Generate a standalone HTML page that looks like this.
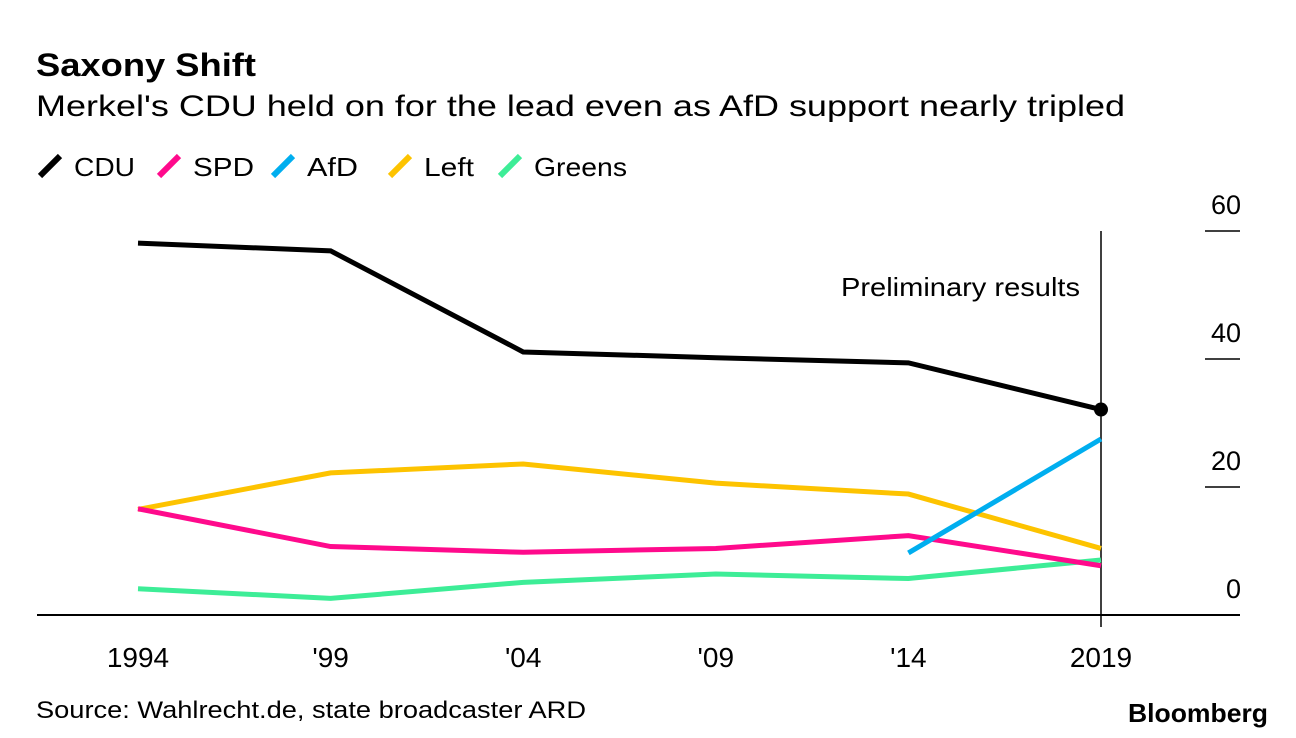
<!DOCTYPE html>
<html><head><meta charset="utf-8"><style>
body{margin:0;background:#fff;font-family:"Liberation Sans",sans-serif;}
svg{display:block}
</style></head><body>
<svg width="1296" height="738" viewBox="0 0 1296 738">
<text x="36" y="76" font-size="32" font-weight="bold" fill="#000" textLength="220" lengthAdjust="spacingAndGlyphs">Saxony Shift</text>
<text x="36" y="116" font-size="30" fill="#000" textLength="1089" lengthAdjust="spacingAndGlyphs">Merkel's CDU held on for the lead even as AfD support nearly tripled</text>
<g id="legend"></g>
<g id="grid"></g>
<g id="xaxis"></g>
<g id="series"></g>
<text x="841" y="296" font-size="26" fill="#000" textLength="239" lengthAdjust="spacingAndGlyphs">Preliminary results</text>
<text x="36" y="718" font-size="24" fill="#000" textLength="550" lengthAdjust="spacingAndGlyphs">Source: Wahlrecht.de, state broadcaster ARD</text>
<text x="1128" y="722" font-size="26" font-weight="bold" fill="#000" textLength="140" lengthAdjust="spacingAndGlyphs">Bloomberg</text>
</svg>
<script>
const years=[1994,1999,2004,2009,2014,2019];
const xLabels=['1994',"'99","'04","'09","'14",'2019'];
const yTicks=[0,20,40,60];
const cdu=[58.1,56.9,41.1,40.2,39.4,32.1];
const spd=[16.6,10.7,9.8,10.4,12.4,7.7];
const afd=[null,null,null,null,9.7,27.5];
const left=[16.5,22.2,23.6,20.6,18.9,10.4];
const greens=[4.1,2.6,5.1,6.4,5.7,8.6];
const NS='http://www.w3.org/2000/svg';
const X=y=>138+(y-1994)*(1101-138)/25;
const Y=v=>615-v*6.4;
function mk(t,a,p){const e=document.createElementNS(NS,t);for(const k in a)e.setAttribute(k,a[k]);p.appendChild(e);return e;}
const grid=document.getElementById('grid');
yTicks.forEach(t=>{
  if(t>0){const l=mk('line',{x1:1205,x2:1240,y1:Y(t),y2:Y(t),stroke:'#000','stroke-width':1.5},grid);
  
  }
  const tx=mk('text',{x:1241,y:Y(t)-17,'font-size':27,'text-anchor':'end'},grid);tx.textContent=t;
  
  
});
const xa=document.getElementById('xaxis');
const base=mk('line',{x1:37,x2:1240,y1:615,y2:615,stroke:'#000','stroke-width':2},xa);


const vl=mk('line',{x1:X(2019),x2:X(2019),y1:231,y2:627,stroke:'#000','stroke-width':1.5},xa);


years.forEach((y,i)=>{
  const tx=mk('text',{x:X(y),y:667,'font-size':28,'text-anchor':'middle'},xa);tx.textContent=xLabels[i];
  
  
});
const ser=[['greens',greens,'#3ded97'],['left',left,'#fdc300'],['spd',spd,'#ff0a8c'],['afd',afd,'#00aeef'],['cdu',cdu,'#000']];
const sg=document.getElementById('series');
ser.forEach(([n,d,c])=>{
  const pts=[];d.forEach((v,i)=>{if(v!=null)pts.push(X(years[i])+','+Y(v));});
  const p=mk('polyline',{points:pts.join(' '),fill:'none',stroke:c,'stroke-width':5,'stroke-linejoin':'miter'},sg);
  
  
});
const dot=mk('circle',{cx:X(2019),cy:Y(cdu[5]),r:7,fill:'#000'},sg);


const lg=document.getElementById('legend');
const leg=[['CDU','#000',40,61],['SPD','#ff0a8c',159,61],['AfD','#00aeef',273,51],['Left','#fdc300',390,50],['Greens','#3ded97',500,93]];
leg.forEach(([n,c,x,w])=>{
  const g=mk('g',{},lg);
  
  
  mk('line',{x1:x,y1:176,x2:x+20,y2:156,stroke:c,'stroke-width':6},g);
  const t=mk('text',{x:x+34,y:176,'font-size':26,textLength:w,lengthAdjust:'spacingAndGlyphs'},g);t.textContent=n;
});
</script>
</body></html>
